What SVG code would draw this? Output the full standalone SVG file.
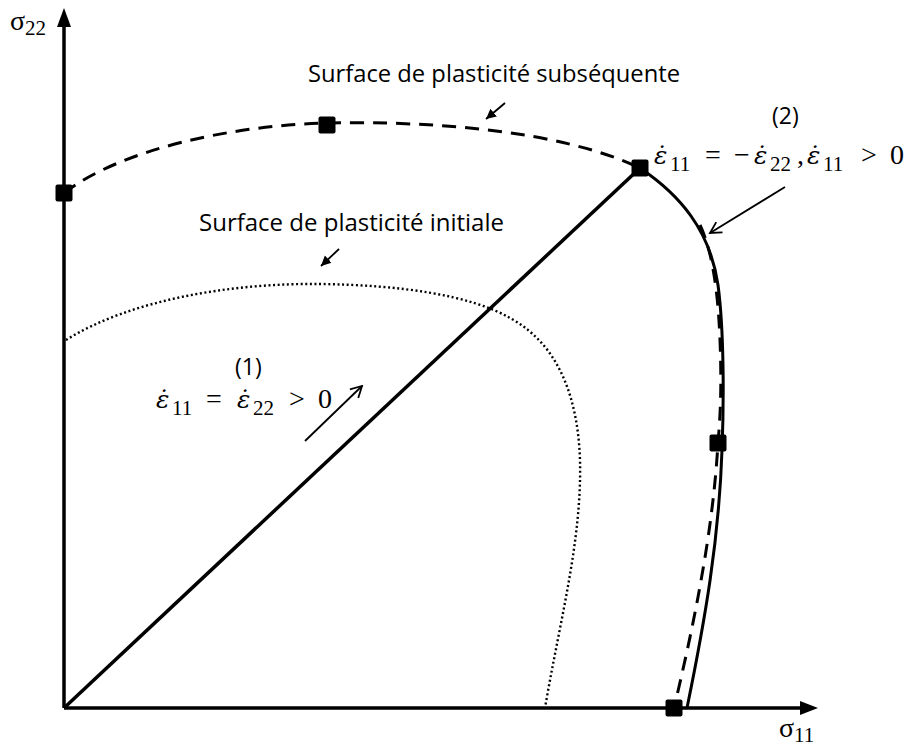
<svg xmlns="http://www.w3.org/2000/svg" width="912" height="749" viewBox="0 0 912 749">
<style>
.axis{stroke:#000;stroke-width:3.5;fill:none}
.solid{stroke:#000;stroke-width:3;fill:none}
.dash{stroke:#000;stroke-width:3;fill:none;stroke-dasharray:14 9}
.dot{stroke:#000;stroke-width:2.4;fill:none;stroke-dasharray:2 2.6}
.thin{stroke:#000;stroke-width:1.8;fill:none}
.sq{fill:#000}
.lbl{font-family:"Open Sans","Liberation Sans",sans-serif;font-size:23px;fill:#000}
.math{font-family:"Liberation Serif","DejaVu Serif",serif;font-size:28px;fill:#000}
.eps{font-family:"DejaVu Serif",serif;font-style:italic;font-size:25px}
.sub{font-size:21px}
</style>
<defs>
<marker id="vopen" markerWidth="14" markerHeight="14" refX="12" refY="7" orient="auto" markerUnits="userSpaceOnUse">
<path d="M1,1 L12,7 L1,13" fill="none" stroke="#000" stroke-width="1.8"/>
</marker>
<marker id="tri" markerWidth="12" markerHeight="12" refX="10" refY="6" orient="auto" markerUnits="userSpaceOnUse">
<path d="M0,1 L10,6 L0,11 Z" fill="#000"/>
</marker>
</defs>
<g id="axes">
<line class="axis" x1="64" y1="708" x2="64" y2="24"/>
<polygon points="64,8 57,27 71,27" fill="#000"/>
<line class="axis" x1="64" y1="708" x2="803" y2="708"/>
<polygon points="818,708 800,701 800,715" fill="#000"/>
<text class="math" x="10" y="30" font-size="27">σ<tspan class="sub" dy="5">22</tspan></text>
<text class="math" x="779" y="737" font-size="27">σ<tspan class="sub" dy="5">11</tspan></text>
</g>
<g id="connectors">
<line class="axis" x1="64" y1="708" x2="640" y2="168"/>
<path class="dot" d="M66,340 C130,300 230,283 320,284 C400,285 470,295 510,318 C560,345 578,400 580,460 C582,540 560,620 545,708"/>
<path class="dash" d="M64,193 C120,150 230,125 330,123 C430,121 560,130 640,168"/>
<path class="solid" d="M640,168 C680,195 710,230 718,285 C724,330 724,400 722,450 C719,540 705,620 687,708"/>
<path class="dash" d="M700,225 C712,250 718,290 720,340 C722,390 720,420 718,443 C713,530 695,620 674,708"/>
<line class="thin" x1="505" y1="103" x2="486" y2="119" marker-end="url(#tri)"/>
<line class="thin" x1="339" y1="249" x2="321" y2="266" marker-end="url(#tri)"/>
<line class="thin" x1="785" y1="187" x2="710" y2="233" marker-end="url(#vopen)"/>
<line class="thin" x1="305" y1="441" x2="362" y2="386" marker-end="url(#vopen)"/>
</g>
<g id="points">
<rect class="sq" x="55.5" y="184.5" width="17" height="17" rx="2"/>
<rect class="sq" x="318.5" y="116.5" width="17" height="17" rx="2"/>
<rect class="sq" x="631.5" y="159.5" width="17" height="17" rx="2"/>
<rect class="sq" x="709.5" y="434.5" width="17" height="17" rx="2"/>
<rect class="sq" x="665.5" y="699.5" width="17" height="17" rx="2"/>
</g>
<g id="label-subsequente">
<text class="lbl" x="308" y="82" textLength="372" lengthAdjust="spacingAndGlyphs">Surface de plasticité subséquente</text>
</g>
<g id="label-initiale">
<text class="lbl" x="199" y="231" textLength="305" lengthAdjust="spacingAndGlyphs">Surface de plasticité initiale</text>
</g>
<g id="label-2">
<text class="lbl" x="772" y="124" font-size="21">(2)</text>
<text class="math"><tspan class="eps" x="654" y="164">ε̇</tspan><tspan class="sub" x="670" y="171">11</tspan><tspan x="705" y="164">=</tspan><tspan x="734" y="164">−</tspan><tspan class="eps" x="754" y="164">ε̇</tspan><tspan class="sub" x="770" y="171">22</tspan><tspan x="797" y="164">,</tspan><tspan class="eps" x="807" y="164">ε̇</tspan><tspan class="sub" x="823" y="171">11</tspan><tspan x="861" y="164">&gt;</tspan><tspan x="890" y="164">0</tspan></text>
</g>
<g id="label-1">
<text class="lbl" x="235" y="375" font-size="21">(1)</text>
<text class="math"><tspan class="eps" x="156" y="408">ε̇</tspan><tspan class="sub" x="172" y="415">11</tspan><tspan x="206" y="408">=</tspan><tspan class="eps" x="237" y="408">ε̇</tspan><tspan class="sub" x="253" y="415">22</tspan><tspan x="289" y="408">&gt;</tspan><tspan x="318" y="408">0</tspan></text>
</g>
</svg>
